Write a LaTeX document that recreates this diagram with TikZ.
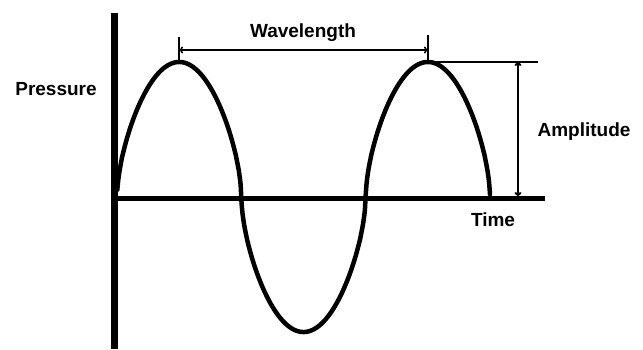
\documentclass[tikz,border=0pt]{standalone}
\usepackage{fontspec}
\setmainfont{Liberation Sans}
\usetikzlibrary{arrows.meta}
\begin{document}
\begin{tikzpicture}[x=1pt,y=-1pt,
  lbl/.style={font=\fontsize{19}{22}\selectfont\bfseries, inner sep=0pt},
  dim/.style={line width=1.6pt, {To[length=4pt,width=7pt]}-{To[length=4pt,width=7pt]}},
  thin/.style={line width=1.6pt},
  declare function={wv(\t)=sign(sin(\t))*pow(abs(sin(\t))+0.0001,0.6);}]
\useasboundingbox (0,0) rectangle (643,349);
% axes
\coordinate (ytop) at (114,13);
\coordinate (ybot) at (114,349);
\coordinate (xl) at (112,198);
\coordinate (xr) at (545,198);
\draw[line width=7pt] (ytop) -- (ybot);
\draw[line width=5pt] (xl) -- (xr);
% wave
\draw[line width=4.5pt, line cap=round] plot[domain=0.3:373, samples=400, smooth] ({117+\x},{197-135*wv(\x/248.7*360)});
% wavelength
\coordinate (p1) at (179,62);
\coordinate (p1t) at (179,37);
\coordinate (p2) at (428,62);
\coordinate (p2t) at (428,35);
\coordinate (w1) at (179,50);
\coordinate (w2) at (428,50);
\draw[thin] (p1) -- (p1t);
\draw[thin] (p2) -- (p2t);
\draw[dim] (w1) -- (w2);
\node[lbl] (wl) at (303,33) {Wavelength};
% amplitude
\coordinate (ah) at (538,62);
\draw[thin] (p2) -- (ah);
\coordinate (a1) at (518,62);
\coordinate (a2) at (518,196);
\draw[dim, line width=2pt] (a1) -- (a2);
\node[lbl] (amp) at (584,132) {Amplitude};
\node[lbl] (time) at (493,220) {Time};
\node[lbl] (pres) at (56,89) {Pressure};
\end{tikzpicture}
\end{document}
